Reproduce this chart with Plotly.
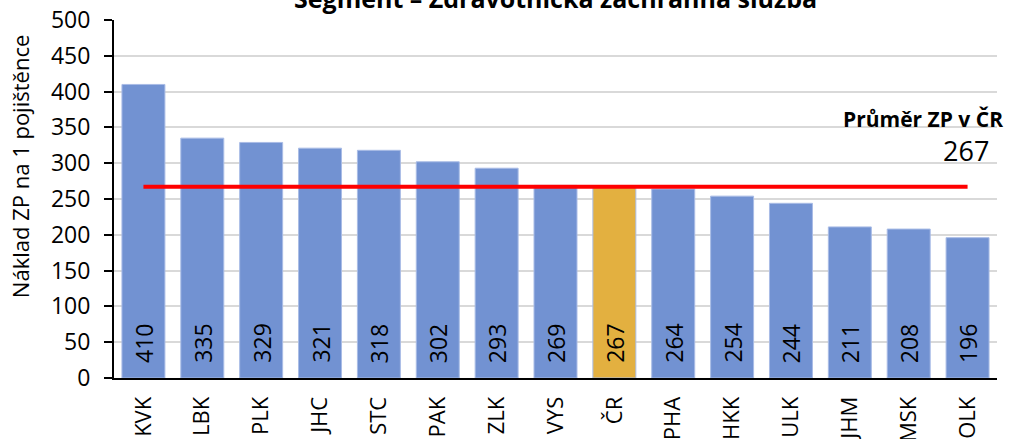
import plotly.graph_objects as go

regions = ["KVK", "LBK", "PLK", "JHC", "STC", "PAK", "ZLK", "VYS", "ČR",
           "PHA", "HKK", "ULK", "JHM", "MSK", "OLK"]
costs = [410, 335, 329, 321, 318, 302, 293, 269, 267, 264, 254, 244, 211, 208, 196]
national_avg = 267
y_ticks = [0, 50, 100, 150, 200, 250, 300, 350, 400, 450, 500]

FONT = "Open Sans"
BLUE = "#7292D2"
GOLD = "#E3B040"

bar_colors = [GOLD if r == "ČR" else BLUE for r in regions]

fig = go.Figure()
fig.add_trace(go.Bar(
    x=regions, y=costs,
    marker=dict(color=bar_colors, line=dict(color="#A9BCE6", width=1)),
    hoverinfo="x+y",
))
fig.add_trace(go.Scatter(
    x=regions, y=[national_avg] * len(regions),
    mode="lines",
    line=dict(color="#FF0000", width=4),
    hoverinfo="skip",
))

# value labels sitting near the base of each bar
value_labels = [
    dict(text=str(v), x=r, y=0, xref="x", yref="y",
         xanchor="center", yanchor="bottom", yshift=13,
         textangle=-90, showarrow=False,
         font=dict(family=FONT, size=23, color="black"))
    for r, v in zip(regions, costs)
]

fig.update_layout(
    width=1009, height=439,
    margin=dict(l=114, r=12, t=20, b=61),
    paper_bgcolor="white", plot_bgcolor="white",
    showlegend=False,
    bargap=0.27,
    font=dict(family=FONT, color="black"),
    xaxis=dict(
        range=[-0.5, len(regions) - 0.5],
        tickangle=-90,
        tickfont=dict(family=FONT, size=22),
        ticklabelstandoff=8,
        automargin=False,
        showline=True, linecolor="black", linewidth=2,
        ticks="", showgrid=False,
    ),
    yaxis=dict(
        range=[0, 500],
        tickvals=y_ticks,
        tickfont=dict(family=FONT, size=23),
        ticklabelstandoff=9,
        automargin=False,
        showline=True, linecolor="black", linewidth=2,
        ticks="outside", ticklen=8, tickwidth=2, tickcolor="black",
        showgrid=True, gridcolor="#D9D9D9", gridwidth=2,
        zeroline=False,
    ),
    annotations=value_labels + [
        dict(text="<b>Segment – Zdravotnická záchranná služba</b>",
             xref="paper", yref="paper", x=0.5, y=1, xanchor="center",
             yanchor="bottom", yshift=3, showarrow=False,
             font=dict(family=FONT, size=25, color="black")),
        dict(text="Náklad ZP na 1 pojištěnce",
             xref="paper", yref="paper", x=0, y=0.589, xshift=-94,
             xanchor="center", yanchor="middle", textangle=-90,
             showarrow=False, font=dict(family=FONT, size=22, color="black")),
        dict(text="<b>Průměr ZP v ČR</b>",
             xref="paper", yref="y", x=1, y=362, xshift=8,
             xanchor="right", yanchor="middle", showarrow=False,
             font=dict(family=FONT, size=21, color="black")),
        dict(text=str(national_avg),
             xref="paper", yref="y", x=1, y=318, xshift=-6,
             xanchor="right", yanchor="middle", showarrow=False,
             font=dict(family=FONT, size=27, color="black")),
    ],
)

fig.write_html("out.html")
